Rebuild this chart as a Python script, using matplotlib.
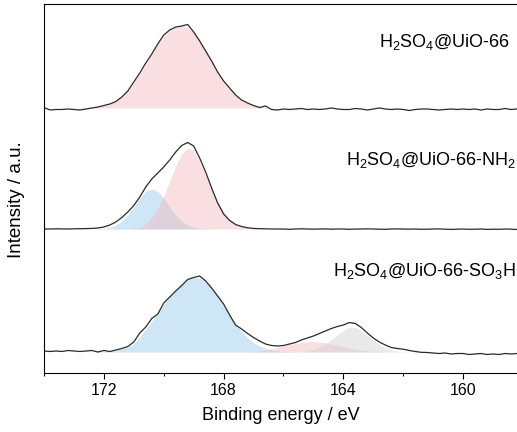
import matplotlib
matplotlib.use("Agg")
import matplotlib.pyplot as plt
import numpy as np

plt.rcParams["font.family"] = ["Liberation Sans", "DejaVu Sans"]
plt.rcParams["mathtext.fontset"] = "custom"
plt.rcParams["mathtext.rm"] = "Liberation Sans"

# binding energy grid (eV), 0.2 eV steps
energy = [
    174.0, 173.8, 173.6, 173.4, 173.2, 173.0, 172.8, 172.6, 172.4, 172.2,
    172.0, 171.8, 171.6, 171.4, 171.2, 171.0, 170.8, 170.6, 170.4, 170.2,
    170.0, 169.8, 169.6, 169.4, 169.2, 169.0, 168.8, 168.6, 168.4, 168.2,
    168.0, 167.8, 167.6, 167.4, 167.2, 167.0, 166.8, 166.6, 166.4, 166.2,
    166.0, 165.8, 165.6, 165.4, 165.2, 165.0, 164.8, 164.6, 164.4, 164.2,
    164.0, 163.8, 163.6, 163.4, 163.2, 163.0, 162.8, 162.6, 162.4, 162.2,
    162.0, 161.8, 161.6, 161.4, 161.2, 161.0, 160.8, 160.6, 160.4, 160.2,
    160.0, 159.8, 159.6, 159.4, 159.2, 159.0, 158.8, 158.6, 158.4, 158.2,
]

# H2SO4@UiO-66
top_total = [
    0.5, -2, -1.5, -1.5, -1, -1.5, -2, -1, 0, 1,
    2.5, 4, 6.5, 11, 17, 26, 35, 45, 54, 64,
    73, 78, 81, 82, 83.5, 76, 67, 57, 47, 36,
    27, 20, 13, 8, 5, 2.5, 0.5, 2, -1.5, -2,
    -1, -1.5, -1, -0.5, -1.5, -1, -1.5, -1, 0, -1,
    -1.5, -1.5, -0.5, -1, -2, -1, 0, -1, -1.5, -1,
    -1.5, -2.5, -1.5, -1, -1, -1.5, -2, -1.5, -1, -1.5,
    -1, -1.5, -1, -2, -1, -1.5, -1.5, -0.5, -1.5, -1,
]
top_pink = [
    0, 0, 0, 0, 0, 0, 0, 0.3, 0.8, 1.5,
    2.6, 4.3, 7, 11, 17, 25, 34, 44, 54, 63.5,
    71.5, 77.5, 81, 82, 80.5, 75.5, 67.5, 58, 47, 36.5,
    27, 19, 12.5, 8, 4.8, 2.7, 1.4, 0.7, 0.3, 0,
    0, 0, 0, 0, 0, 0, 0, 0, 0, 0,
    0, 0, 0, 0, 0, 0, 0, 0, 0, 0,
    0, 0, 0, 0, 0, 0, 0, 0, 0, 0,
    0, 0, 0, 0, 0, 0, 0, 0, 0, 0,
]

# H2SO4@UiO-66-NH2
mid_total = [
    0, 0, 0.2, 0.1, 0, 0.2, 0.3, 0.4, 0.6, 1,
    2, 4, 7, 11.5, 17, 23.5, 32, 42, 50, 56,
    62, 69, 77, 83.5, 86.5, 83, 71, 57, 41, 26,
    15, 8.5, 4.5, 2.5, 1.2, 0.6, 0.3, 0.2, 0, 0,
    0, -0.3, 0, 0.2, 0, -0.2, 0, 0.1, -0.2, 0,
    0, -0.3, -0.1, 0, 0.2, 0, -0.2, -0.3, 0, 0.1,
    0, -0.2, 0, -0.3, -0.2, 0, 0.1, -0.2, -0.4, -0.2,
    0, -0.3, -0.2, 0, -0.4, -0.2, -0.3, 0, -0.2, -0.5,
]
mid_blue = [
    0, 0, 0, 0, 0, 0, 0, 0, 0.05, 0.2,
    0.6, 1.6, 3.7, 7.7, 14, 22, 31, 37.7, 40, 37.7,
    31, 22, 14, 7.7, 3.7, 1.6, 0.6, 0.2, 0.05, 0,
    0, 0, 0, 0, 0, 0, 0, 0, 0, 0,
    0, 0, 0, 0, 0, 0, 0, 0, 0, 0,
    0, 0, 0, 0, 0, 0, 0, 0, 0, 0,
    0, 0, 0, 0, 0, 0, 0, 0, 0, 0,
    0, 0, 0, 0, 0, 0, 0, 0, 0, 0,
]
mid_pink = [
    0, 0, 0, 0, 0, 0, 0, 0, 0, 0,
    0, 0, 0, 0, 0.2, 0.8, 2, 5, 11, 21,
    33, 48, 63, 75, 81, 79, 67, 54, 40, 27.5,
    17.3, 10, 5.4, 2.7, 1.2, 0.5, 0.2, 0, 0, 0,
    0, 0, 0, 0, 0, 0, 0, 0, 0, 0,
    0, 0, 0, 0, 0, 0, 0, 0, 0, 0,
    0, 0, 0, 0, 0, 0, 0, 0, 0, 0,
    0, 0, 0, 0, 0, 0, 0, 0, 0, 0,
]

# H2SO4@UiO-66-SO3H
bot_total = [
    1, 0.5, 1, 0.5, 1.5, 1, 0.5, 1, 1.5, 0,
    1.5, 0.5, 2, 3.5, 5.5, 10, 19, 25, 33.5, 38,
    49, 55, 61, 66.5, 72.5, 74.5, 76, 71, 64, 56,
    48, 37, 27, 23, 18.5, 14.5, 11, 8, 6.5, 6,
    6.5, 8, 9.5, 12, 14, 16, 18.5, 21, 23.5, 25.5,
    27, 29.5, 28.5, 24.5, 19, 14, 10, 7, 4.5, 3.5,
    2.8, 1.5, 0.5, -0.3, -0.5, -1, -1.5, -1, -2, -1.5,
    -1.5, -2.5, -2, -1.5, -2.5, -2, -2.5, -1.5, -2, -1.5,
]
bot_blue = [
    0, 0, 0, 0, 0, 0, 0, 0, 0.1, 0.3,
    0.5, 1, 1.8, 3, 5, 8, 15, 23, 31, 39,
    47.5, 55.5, 62.5, 68.5, 72.5, 74.5, 74, 70.5, 64.5, 56,
    46.5, 37, 27, 20.5, 14, 9.5, 6, 3.6, 2, 1.1,
    0.6, 0.3, 0.1, 0, 0, 0, 0, 0, 0, 0,
    0, 0, 0, 0, 0, 0, 0, 0, 0, 0,
    0, 0, 0, 0, 0, 0, 0, 0, 0, 0,
    0, 0, 0, 0, 0, 0, 0, 0, 0, 0,
]
bot_pink = [
    0, 0, 0, 0, 0, 0, 0, 0, 0, 0,
    0, 0, 0, 0, 0, 0, 0, 0, 0, 0,
    0, 0, 0, 0, 0, 0, 0, 0, 0, 0,
    0, 0, 0, 0, 0, 0.5, 1, 2, 3, 4.5,
    6, 7.5, 8.7, 9.6, 10.2, 10.3, 10, 9.2, 8, 6.7,
    5.3, 4, 2.8, 1.9, 1.2, 0.7, 0.4, 0.2, 0, 0,
    0, 0, 0, 0, 0, 0, 0, 0, 0, 0,
    0, 0, 0, 0, 0, 0, 0, 0, 0, 0,
]
bot_gray = [
    0, 0, 0, 0, 0, 0, 0, 0, 0, 0,
    0, 0, 0, 0, 0, 0, 0, 0, 0, 0,
    0, 0, 0, 0, 0, 0, 0, 0, 0, 0,
    0, 0, 0, 0, 0, 0, 0, 0, 0, 0,
    0, 0, 0, 0, 1, 2.5, 4.8, 8, 12.5, 17,
    21.5, 25, 24.5, 21.5, 17, 11.5, 7.5, 4.2, 1.8, 0.8,
    0.3, 0, 0, 0, 0, 0, 0, 0, 0, 0,
    0, 0, 0, 0, 0, 0, 0, 0, 0, 0,
]

labels = [r"H$_\mathregular{2}$SO$_\mathregular{4}$@UiO-66",
          r"H$_\mathregular{2}$SO$_\mathregular{4}$@UiO-66-NH$_\mathregular{2}$",
          r"H$_\mathregular{2}$SO$_\mathregular{4}$@UiO-66-SO$_\mathregular{3}$H"]

# vertical stacking and label anchors
offsets = [265, 144, 21]
label_x = [158.42, 158.24, 158.25]
label_y = [331, 213, 102]

pink = "#f2b9bf"
blue = "#93c8ea"
gray = "#cfcfcf"
line_color = "#2a2a2a"

E = np.array(energy)

fig = plt.figure(figsize=(5.17, 4.32), dpi=100)
ax = fig.add_axes([44 / 517, 59 / 432, 473 / 517, 369 / 432])

spectra = [
    (top_total, [(top_pink, pink)]),
    (mid_total, [(mid_blue, blue), (mid_pink, pink)]),
    (bot_total, [(bot_blue, blue), (bot_pink, pink), (bot_gray, gray)]),
]

for (total, comps), off, lab, lx, ly in zip(spectra, offsets, labels,
                                            label_x, label_y):
    for vals, col in comps:
        v = np.array(vals)
        ax.fill_between(E, off, off + v, where=v > 0, color=col, alpha=0.45,
                        linewidth=0, interpolate=True)
    ax.plot(E, off + np.array(total), color=line_color, lw=0.9)
    ax.text(lx, ly, lab, ha="right", va="center", fontsize=13)

ax.set_xlim(174, 158.2)
ax.set_ylim(0, 369)
ax.set_yticks([])
ax.set_xticks([172, 168, 164, 160])
ax.set_xticks([174, 170, 166, 162], minor=True)
ax.tick_params(axis="x", which="major", direction="out", length=4, width=0.8,
               labelsize=11.5)
ax.tick_params(axis="x", which="minor", direction="out", length=2.5, width=0.8)
ax.spines["right"].set_visible(False)
for s in ["left", "top", "bottom"]:
    ax.spines[s].set_linewidth(0.8)
ax.set_xlabel("Binding energy / eV", fontsize=13, labelpad=6)
ax.set_ylabel("Intensity / a.u.", fontsize=13.5)
ax.yaxis.set_label_coords(-0.040, 0.47)

fig.savefig("out.png", dpi=100)
